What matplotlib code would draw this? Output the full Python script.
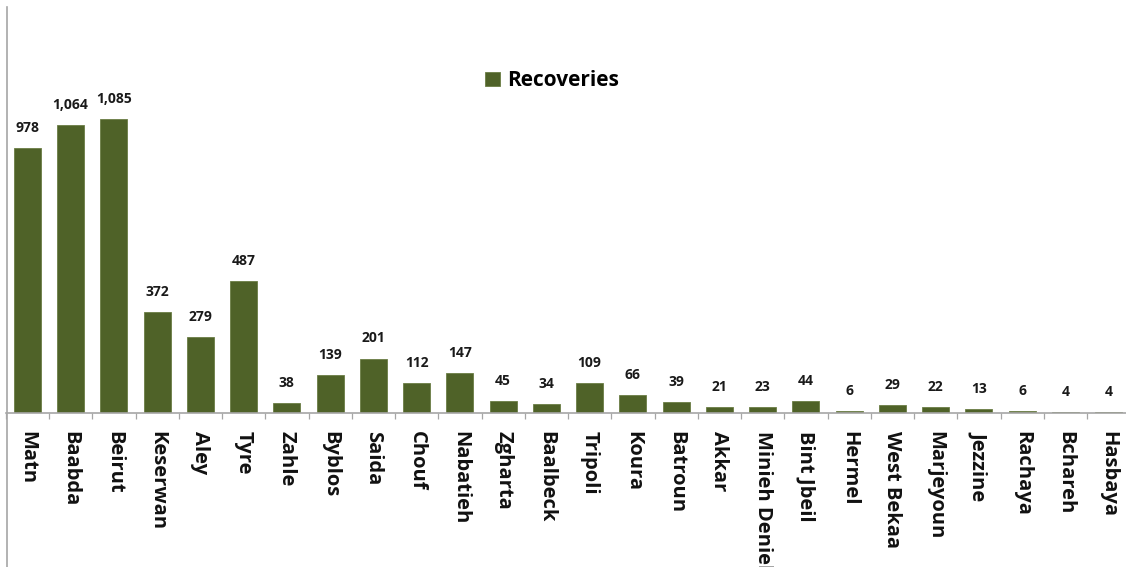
import numpy as np
import matplotlib
matplotlib.use("Agg")
import matplotlib.pyplot as plt
from matplotlib.lines import Line2D

districts = ["Matn", "Baabda", "Beirut", "Keserwan", "Aley", "Tyre", "Zahle",
             "Byblos", "Saida", "Chouf", "Nabatieh", "Zgharta", "Baalbeck",
             "Tripoli", "Koura", "Batroun", "Akkar", "Minieh Denieh",
             "Bint Jbeil", "Hermel", "West Bekaa", "Marjeyoun", "Jezzine",
             "Rachaya", "Bchareh", "Hasbaya"]
recoveries = [978, 1064, 1085, 372, 279, 487, 38, 139, 201, 112, 147, 45, 34,
              109, 66, 39, 21, 23, 44, 6, 29, 22, 13, 6, 4, 4]

bar_color = "#4f6228"
axis_color = "#a6a6a6"

plt.rcParams['font.family'] = ['Open Sans', 'DejaVu Sans']

W, H = 1126, 567
fig = plt.figure(figsize=(W / 100, H / 100), dpi=100)

# plot area in pixel terms (x0=5.75, per category 43.25 px, baseline y=413)
x0, step = 5.75, 43.25
n = len(districts)
base_y, top_y = 413, 6.6
ax = fig.add_axes([x0 / W, 1 - base_y / H, n * step / W, (base_y - top_y) / H])

x = np.arange(n)
bars = ax.bar(x, recoveries, width=0.62, color=bar_color,
              edgecolor="#6b7d45", linewidth=0.6, label="Recoveries", zorder=2)

for xi, v in zip(x, recoveries):
    ax.annotate(f"{v:,}", (xi, v), xytext=(0, 9.4), textcoords="offset points",
                ha="center", va="bottom", fontsize=10, fontweight="bold",
                color="#1a1a1a")

ax.set_xlim(-0.5, n - 0.5)
ax.set_ylim(0, 1500)

ax.set_xticks(x)
ax.set_xticklabels(districts, rotation=-90, fontsize=14.5, fontweight="bold",
                   va="top", ha="center", color="#111111")
ax.set_xticks(np.arange(n + 1) - 0.5, minor=True)
ax.tick_params(axis="x", which="major", length=0, pad=13)
ax.tick_params(axis="x", which="minor", length=4, width=0.9, color=axis_color,
               direction="out")
ax.set_yticks([])

for s in ["top", "right", "left"]:
    ax.spines[s].set_visible(False)
ax.spines["bottom"].set_color(axis_color)
ax.spines["bottom"].set_linewidth(1.2)

# left border line runs the full height of the chart area
fig.add_artist(Line2D([6.5 / W, 6.5 / W], [0, 1 - top_y / H],
                      color=axis_color, linewidth=1.2, transform=fig.transFigure))

ax.legend(loc="center", bbox_to_anchor=(552 / W, 1 - 81 / H),
          bbox_transform=fig.transFigure, frameon=False, handlelength=0.7,
          handleheight=0.7, handletextpad=0.35,
          prop={"size": 15, "weight": "bold"})

fig.savefig("out.png", dpi=100)
